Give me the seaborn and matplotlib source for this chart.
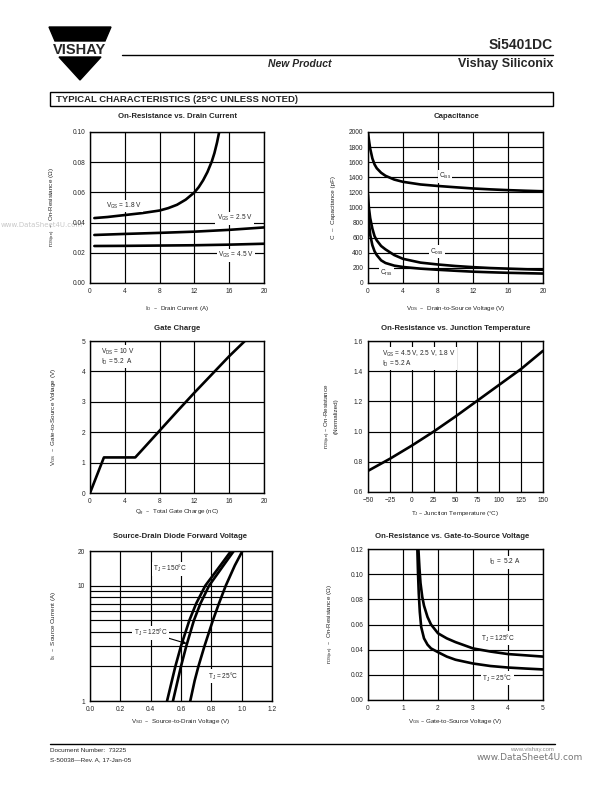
import numpy as np
import matplotlib
matplotlib.use('Agg')
import matplotlib.pyplot as plt
import seaborn as sns
from matplotlib.patches import Polygon, Rectangle
from matplotlib.ticker import FixedLocator, NullFormatter, FormatStrFormatter

# ---- data ----
# On-Resistance vs. Drain Current
id_18 = [0.5, 2, 4, 6, 8, 9, 10, 11, 12, 12.5, 13, 13.5, 14, 14.3, 14.6, 14.85]
rds_18 = [0.043, 0.0437, 0.045, 0.0463, 0.048, 0.0496, 0.0518, 0.0552, 0.060,
          0.0635, 0.068, 0.0735, 0.0805, 0.086, 0.093, 0.100]
id_25 = [0.5, 4, 8, 12, 16, 20]
rds_25 = [0.0318, 0.0325, 0.0332, 0.034, 0.0352, 0.0368]
id_45 = [0.5, 4, 8, 12, 16, 20]
rds_45 = [0.0245, 0.0246, 0.0248, 0.025, 0.0254, 0.026]

# Capacitance
vds = [0, 0.1, 0.25, 0.5, 0.75, 1, 1.5, 2, 3, 4, 6, 8, 10, 12, 14, 16, 18, 20]
ciss = [1990, 1900, 1780, 1650, 1570, 1520, 1460, 1420, 1370, 1340, 1305, 1285,
        1268, 1252, 1240, 1230, 1222, 1215]
coss = [1170, 1000, 860, 720, 620, 565, 490, 445, 370, 320, 270, 245, 225, 210,
        198, 190, 182, 175]
crss = [1000, 820, 640, 500, 420, 370, 300, 265, 230, 212, 190, 175, 162, 150,
        142, 135, 130, 125]

# Gate Charge
qg = [0, 1.6, 5.2, 6, 8, 10, 12, 14, 16, 17.8]
vgs_qg = [0, 1.17, 1.17, 1.42, 2.05, 2.68, 3.3, 3.9, 4.5, 5.0]

# On-Resistance vs. Junction Temperature
tj = [-50, -25, 0, 25, 50, 75, 100, 125, 150]
rds_norm = [0.74, 0.82, 0.907, 1.0, 1.1, 1.205, 1.31, 1.415, 1.535]

# Source-Drain Diode Forward Voltage
i_s = [1, 1.5, 2, 3, 5, 7, 10, 15, 20]
vsd_150 = [0.508, 0.54, 0.563, 0.60, 0.655, 0.70, 0.76, 0.86, 0.93]
vsd_125 = [0.547, 0.578, 0.60, 0.635, 0.685, 0.728, 0.785, 0.88, 0.948]
vsd_25 = [0.661, 0.69, 0.715, 0.755, 0.81, 0.85, 0.895, 0.955, 1.005]

# On-Resistance vs. Gate-to-Source Voltage
vgs_125 = [1.44, 1.47, 1.5, 1.55, 1.6, 1.7, 1.8, 2.0, 2.25, 2.5, 3, 3.5, 4, 4.5, 5]
rds_125 = [0.12, 0.105, 0.093, 0.082, 0.075, 0.066, 0.060, 0.053, 0.049, 0.046,
           0.041, 0.0385, 0.0365, 0.0355, 0.0345]
vgs_25 = [1.41, 1.43, 1.45, 1.48, 1.52, 1.6, 1.7, 1.8, 2.0, 2.25, 2.5, 3, 3.5, 4, 4.5, 5]
rds_25c = [0.12, 0.10, 0.085, 0.07, 0.058, 0.049, 0.044, 0.041, 0.038, 0.0345,
           0.032, 0.029, 0.027, 0.0258, 0.025, 0.0243]

# ---- style ----
sns.set_style('white')
plt.rcParams['font.family'] = ['Liberation Sans', 'DejaVu Sans']
plt.rcParams['mathtext.default'] = 'regular'

W, H = 612, 792
fig = plt.figure(figsize=(W / 100, H / 100), dpi=100)

# overlay in pixel coords for page furniture
ov = fig.add_axes([0, 0, 1, 1])
ov.set_xlim(0, W)
ov.set_ylim(H, 0)
ov.axis('off')

# Vishay logo
ov.add_patch(Polygon([(49, 27), (111, 27), (105, 41), (55, 41)], color='black'))
ov.add_patch(Polygon([(59, 57), (101, 57), (80, 80)], color='black'))
ov.text(80, 49.5, 'VISHAY', ha='center', va='center', fontsize=10.5,
        fontweight='bold')
ov.plot([122, 553], [55, 55], color='black', lw=1)
ov.text(553, 45, 'Si5401DC', ha='right', va='center', fontsize=10, fontweight='bold')
ov.text(553, 64, 'Vishay Siliconix', ha='right', va='center', fontsize=9,
        fontweight='bold')
ov.text(300, 64, 'New Product', ha='center', va='center', fontsize=7.5,
        fontweight='bold', style='italic')

# section header box
ov.add_patch(Rectangle((50, 92), 503, 14, fill=False, ec='black', lw=1))
ov.text(56, 99.5, 'TYPICAL CHARACTERISTICS (25°C UNLESS NOTED)', ha='left',
        va='center', fontsize=6.8, fontweight='bold')

# watermarks and footer
ov.text(1, 225, 'www.DataSheet4U.com', ha='left', va='center', fontsize=5,
        color='#c8c8c8', family='DejaVu Sans', zorder=0)
ov.plot([50, 555], [744, 744], color='black', lw=1)
ov.text(50, 751, 'Document Number:  73225', fontsize=4.6, va='center')
ov.text(50, 760, 'S-50038—Rev. A, 17-Jan-05', fontsize=4.6, va='center')
ov.text(554, 750, 'www.vishay.com', fontsize=4.3, ha='right', va='center',
        color='#888888')
ov.text(583, 757, 'www.DataSheet4U.com', fontsize=6.5, ha='right', va='center',
        color='#777777', family='DejaVu Sans')

titles = [('On-Resistance vs. Drain Current', 177, 117),
          ('Capacitance', 456, 117),
          ('Gate Charge', 177, 329),
          ('On-Resistance vs. Junction Temperature', 456, 329),
          ('Source-Drain Diode Forward Voltage', 180, 537),
          ('On-Resistance vs. Gate-to-Source Voltage', 452, 537)]
for t, x, y in titles:
    ov.text(x, y, t, ha='center', va='center', fontsize=5.6, fontweight='bold')


def make_axes(x0, x1, y0, y1):
    ax = fig.add_axes([x0 / W, 1 - y1 / H, (x1 - x0) / W, (y1 - y0) / H])
    ax.grid(True, which='both', color='black', lw=0.85)
    for s in ax.spines.values():
        s.set_color('black')
        s.set_linewidth(1.0)
    ax.tick_params(which='both', length=0, labelsize=4.8, pad=3.5)
    return ax


def labels(ax, box, xlab, xy, ylab, yx):
    x0, x1, y0, y1 = box
    ax.set_xlabel(xlab, fontsize=4.5)
    ax.set_ylabel(ylab, fontsize=4.5)
    ax.xaxis.set_label_coords(0.5, -(xy - y1) / (y1 - y0))
    ax.yaxis.set_label_coords((yx - x0) / (x1 - x0), 0.5)
    ax.xaxis.label.set_va('center')
    ax.yaxis.label.set_va('center')


def note(ax, x, y, s, ha='center', va='center'):
    ax.text(x, y, s, ha=ha, va=va, fontsize=4.7, linespacing=1.0,
            bbox=dict(facecolor='white', edgecolor='none', pad=1.0))


LW = 1.9

# 1. On-Resistance vs. Drain Current
b1 = (90, 264, 132, 283)
ax1 = make_axes(*b1)
for xs, ys in [(id_18, rds_18), (id_25, rds_25), (id_45, rds_45)]:
    sns.lineplot(x=xs, y=ys, ax=ax1, color='black', lw=LW, estimator=None, sort=False)
ax1.set_xlim(0, 20)
ax1.set_ylim(0, 0.10)
ax1.set_xticks(np.arange(0, 21, 4))
ax1.set_yticks(np.arange(0, 0.101, 0.02))
ax1.yaxis.set_major_formatter(FormatStrFormatter('%.2f'))
note(ax1, 1.8, 0.051, 'V$_{GS}$ = 1.8 V', ha='left')
note(ax1, 16.6, 0.043, 'V$_{GS}$ = 2.5 V')
note(ax1, 16.8, 0.0185, 'V$_{GS}$ = 4.5 V')
labels(ax1, b1, 'I$_D$  –  Drain Current (A)', 309,
       'r$_{DS(on)}$  –  On-Resistance (Ω)', 53)

# 2. Capacitance
b2 = (368, 543, 132, 283)
ax2 = make_axes(*b2)
for ys in [ciss, coss, crss]:
    sns.lineplot(x=vds, y=ys, ax=ax2, color='black', lw=LW, estimator=None, sort=False)
ax2.set_xlim(0, 20)
ax2.set_ylim(0, 2000)
ax2.set_xticks(np.arange(0, 21, 4))
ax2.set_yticks(np.arange(0, 2001, 200))
note(ax2, 8.8, 1415, 'C$_{iss}$')
note(ax2, 7.9, 415, 'C$_{oss}$')
note(ax2, 2.1, 130, 'C$_{rss}$')
labels(ax2, b2, 'V$_{DS}$  –  Drain-to-Source Voltage (V)', 309,
       'C  –  Capacitance (pF)', 333)

# 3. Gate Charge
b3 = (90, 264, 341, 493)
ax3 = make_axes(*b3)
sns.lineplot(x=qg, y=vgs_qg, ax=ax3, color='black', lw=LW, estimator=None, sort=False)
ax3.set_xlim(0, 20)
ax3.set_ylim(0, 5)
ax3.set_xticks(np.arange(0, 21, 4))
ax3.set_yticks(np.arange(0, 6, 1))
note(ax3, 1.3, 4.82, 'V$_{DS}$ = 10 V\nI$_D$ = 5.2  A', ha='left', va='top')
labels(ax3, b3, 'Q$_g$  –  Total Gate Charge (nC)', 513,
       'V$_{GS}$  –  Gate-to-Source Voltage (V)', 53)

# 4. On-Resistance vs. Junction Temperature
b4 = (368, 543, 341, 492)
ax4 = make_axes(*b4)
sns.lineplot(x=tj, y=rds_norm, ax=ax4, color='black', lw=LW, estimator=None, sort=False)
ax4.set_xlim(-50, 150)
ax4.set_ylim(0.6, 1.6)
ax4.set_xticks(np.arange(-50, 151, 25))
ax4.set_yticks(np.arange(0.6, 1.61, 0.2))
ax4.yaxis.set_major_formatter(FormatStrFormatter('%.1f'))
note(ax4, -34, 1.55, 'V$_{GS}$ = 4.5 V, 2.5 V, 1.8 V\nI$_D$ = 5.2 A', ha='left', va='top')
labels(ax4, b4, 'T$_J$ – Junction Temperature (°C)', 514,
       'r$_{DS(on)}$ – On-Resistance\n(Normalized)', 331)

# 5. Source-Drain Diode Forward Voltage
b5 = (90, 272, 551, 701)
ax5 = make_axes(*b5)
for xs in [vsd_150, vsd_125, vsd_25]:
    sns.lineplot(x=xs, y=i_s, ax=ax5, color='black', lw=LW, estimator=None, sort=False)
ax5.set_yscale('log')
ax5.set_xlim(0, 1.2)
ax5.set_ylim(1, 20)
ax5.set_xticks(np.arange(0, 1.21, 0.2))
ax5.xaxis.set_major_formatter(FormatStrFormatter('%.1f'))
ax5.yaxis.set_major_locator(FixedLocator([1, 10, 20]))
ax5.yaxis.set_major_formatter(FormatStrFormatter('%d'))
ax5.yaxis.set_minor_locator(FixedLocator([2, 3, 4, 5, 6, 7, 8, 9]))
ax5.yaxis.set_minor_formatter(NullFormatter())
note(ax5, 0.53, 14.0, 'T$_J$ = 150°C')
ax5.annotate('T$_J$ = 125°C', xy=(0.637, 3.15), xytext=(0.40, 3.9), fontsize=4.7,
             ha='center', va='center',
             bbox=dict(facecolor='white', edgecolor='none', pad=1.0),
             arrowprops=dict(arrowstyle='-|>', color='black', lw=0.8,
                             mutation_scale=5, shrinkA=0, shrinkB=0))
note(ax5, 0.88, 1.65, 'T$_J$ = 25°C')
labels(ax5, b5, 'V$_{SD}$  –  Source-to-Drain Voltage (V)', 722,
       'I$_S$  –  Source Current (A)', 53)

# 6. On-Resistance vs. Gate-to-Source Voltage
b6 = (368, 543, 549, 700)
ax6 = make_axes(*b6)
sns.lineplot(x=vgs_125, y=rds_125, ax=ax6, color='black', lw=LW, estimator=None, sort=False)
sns.lineplot(x=vgs_25, y=rds_25c, ax=ax6, color='black', lw=LW, estimator=None, sort=False)
ax6.set_xlim(0, 5)
ax6.set_ylim(0, 0.12)
ax6.set_xticks(np.arange(0, 6, 1))
ax6.set_yticks(np.arange(0, 0.121, 0.02))
ax6.yaxis.set_major_formatter(FormatStrFormatter('%.2f'))
note(ax6, 3.9, 0.1095, 'I$_D$ =  5.2 A')
note(ax6, 3.7, 0.049, 'T$_J$ = 125°C')
note(ax6, 3.7, 0.0175, 'T$_J$ = 25°C')
labels(ax6, b6, 'V$_{GS}$ – Gate-to-Source Voltage (V)', 721,
       'r$_{DS(on)}$  –  On-Resistance (Ω)', 331)

fig.savefig('out.png', dpi=100)
